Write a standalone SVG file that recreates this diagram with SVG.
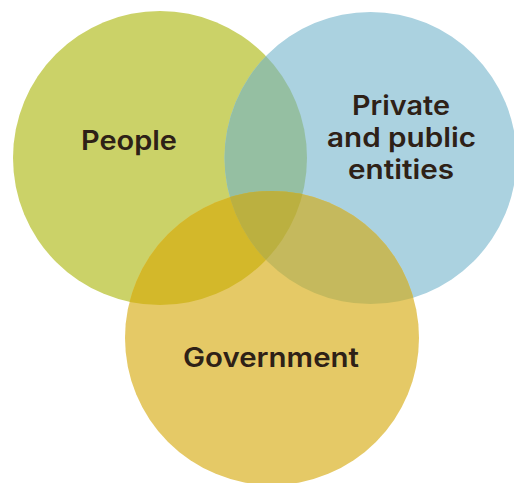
<svg xmlns="http://www.w3.org/2000/svg" width="514" height="483" viewBox="0 0 514 483">
<style>
.lbl{font-family:Inter,"Open Sans","DejaVu Sans",sans-serif;font-weight:600;font-size:26.5px;fill:#2e2117;text-anchor:middle}
</style>
<defs>
<clipPath id="cG"><circle cx="160" cy="158" r="147"/></clipPath>
<clipPath id="cB"><circle cx="370.5" cy="158" r="146"/></clipPath>
<clipPath id="cY"><circle cx="272" cy="338" r="147"/></clipPath>
</defs>
<rect width="514" height="483" fill="#ffffff"/>
<g id="people">
<circle cx="160" cy="158" r="147" fill="#cbd268"/>
</g>
<g id="private-public">
<circle cx="370.5" cy="158" r="146" fill="#abd2e0"/>
</g>
<g id="government">
<circle cx="272" cy="338" r="147" fill="#e5c966"/>
</g>
<g id="overlaps">
<g clip-path="url(#cG)"><circle cx="370.5" cy="158" r="146" fill="#95bfa2"/></g>
<g clip-path="url(#cG)"><circle cx="272" cy="338" r="147" fill="#d3b82a"/></g>
<g clip-path="url(#cB)"><circle cx="272" cy="338" r="147" fill="#c5b95d"/></g>
<g clip-path="url(#cG)"><g clip-path="url(#cB)"><circle cx="272" cy="338" r="147" fill="#bbb040"/></g></g>
</g>
<g id="labels">
<text class="lbl" x="129" y="150" textLength="96" lengthAdjust="spacingAndGlyphs">People</text>
<text class="lbl" x="401" y="115" textLength="98" lengthAdjust="spacingAndGlyphs">Private</text>
<text class="lbl" x="401.5" y="147" textLength="149" lengthAdjust="spacingAndGlyphs">and public</text>
<text class="lbl" x="401" y="179" textLength="106" lengthAdjust="spacingAndGlyphs">entities</text>
<text class="lbl" x="271" y="367" textLength="176" lengthAdjust="spacingAndGlyphs">Government</text>
</g>
<g id="connectors"/>
</svg>
